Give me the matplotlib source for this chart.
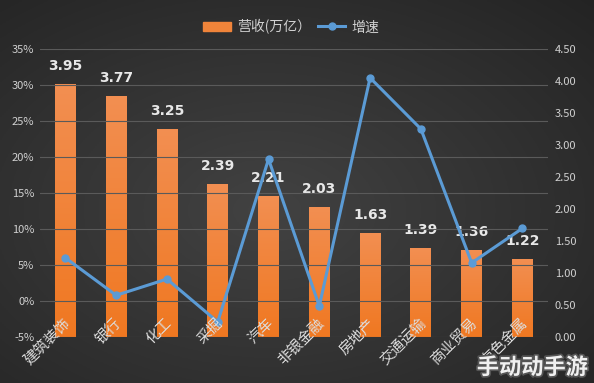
import numpy as np
import matplotlib
matplotlib.use("Agg")
import matplotlib.pyplot as plt
from matplotlib.lines import Line2D
from matplotlib.patches import Patch
import matplotlib.patheffects as pe
import matplotlib.transforms as mtransforms

plt.rcParams['font.family'] = ['Noto Sans CJK SC', 'DejaVu Sans']

categories = ['建筑装饰', '银行', '化工', '采掘', '汽车', '非银金融', '房地产', '交通运输', '商业贸易', '有色金属']
revenue = [3.95, 3.77, 3.25, 2.39, 2.21, 2.03, 1.63, 1.39, 1.36, 1.22]
growth = [6.0, 0.8, 3.05, -2.9, 19.7, -0.7, 31.0, 23.9, 5.3, 10.1]
left_ticks = [-5, 0, 5, 10, 15, 20, 25, 30, 35]
right_ticks = [0, 0.5, 1.0, 1.5, 2.0, 2.5, 3.0, 3.5, 4.0, 4.5]

fig = plt.figure(figsize=(5.94, 3.83), dpi=100)

# background radial gradient
bg = fig.add_axes([0, 0, 1, 1])
yy, xx = np.mgrid[0:1:200j, 0:1:300j]
r = np.sqrt(((xx - 0.45) / 0.9) ** 2 + ((yy - 0.45) / 0.9) ** 2)
val = 0.26 - 0.14 * np.clip(r, 0, 1)
img = np.dstack([val, val, val])
bg.imshow(img, extent=[0, 1, 0, 1], aspect='auto', origin='lower')
bg.axis('off')

ax = fig.add_axes([0.0673, 0.120, 0.855, 0.752])
ax.patch.set_alpha(0)
ax2 = ax.twinx()
ax2.patch.set_alpha(0)

x = np.arange(len(categories))
text_col = '#d0d0d0'

ax.set_ylim(-5, 35)
ax2.set_ylim(0, 4.5)
ax.set_xlim(-0.5, len(categories) - 0.5)
ax2.set_xlim(-0.5, len(categories) - 0.5)

# bars on right axis with vertical gradient
bars = ax2.bar(x, revenue, width=0.41, color='#f0843a', zorder=2)
grad = np.linspace(0, 1, 100).reshape(-1, 1)
top_c = np.array([0.95, 0.56, 0.32])
bot_c = np.array([0.94, 0.47, 0.13])
gimg = (bot_c[None, None, :] * (1 - grad[:, :, None]) + top_c[None, None, :] * grad[:, :, None])
for b in bars:
    bx, by = b.get_x(), b.get_y()
    bw, bh = b.get_width(), b.get_height()
    im = ax2.imshow(gimg, extent=[bx, bx + bw, by, by + bh], origin='lower', aspect='auto', zorder=2.1)
    im.set_clip_path(b)
ax2.set_xlim(-0.5, len(categories) - 0.5)
ax2.set_ylim(0, 4.5)

for xi, v in zip(x, revenue):
    ax2.text(xi, v + 0.17, f'{v:.2f}', ha='center', va='bottom', color='#e8e8e8',
             fontsize=10, fontweight='bold', family='DejaVu Sans', zorder=5)

# line on left axis
ax.set_zorder(ax2.get_zorder() + 1)
ax.plot(x, growth, color='#5b9bd5', lw=2.2, marker='o', ms=5, zorder=4)

ax.set_yticks(left_ticks)
ax.set_yticklabels([f'{t}%' for t in left_ticks])
ax2.set_yticks(right_ticks)
ax2.set_yticklabels([f'{t:.2f}' for t in right_ticks])
ax.yaxis.grid(True, color='#5a5a5a', lw=0.8)
ax.set_axisbelow(True)
ax.set_xticks(x)
ax.set_xticklabels([])

for a in (ax, ax2):
    for s in a.spines.values():
        s.set_visible(False)
    a.tick_params(length=0, colors=text_col, labelsize=8)
ax.tick_params(axis='y', pad=4)
ax2.tick_params(axis='y', pad=5)

# category labels drawn rotated, overlapping the bar bases like the reference
trans = mtransforms.blended_transform_factory(ax.transData, ax.transAxes)
for xi, c in zip(x, categories):
    ax.text(xi + 0.06, 0.055, c, transform=trans, rotation=45, rotation_mode='anchor',
            ha='right', va='center', fontsize=10.5, color='#dcdcdc', zorder=6, clip_on=False)

handles = [Patch(color='#f0843a', label='营收(万亿）'),
           Line2D([0], [0], color='#5b9bd5', lw=2.2, marker='o', ms=5, label='增速')]
fig.legend(handles=handles, loc='center', bbox_to_anchor=(0.49, 0.93), ncol=2, frameon=False,
           fontsize=10, labelcolor='#d0d0d0', handlelength=2.0, columnspacing=0.5, handletextpad=0.4)

fig.text(0.99, 0.01, '手动动手游', ha='right', va='bottom', fontsize=16, fontweight='bold',
         color='#f0f0f0', path_effects=[pe.withStroke(linewidth=2.5, foreground='#555555')])

fig.savefig('out.png', dpi=100)
